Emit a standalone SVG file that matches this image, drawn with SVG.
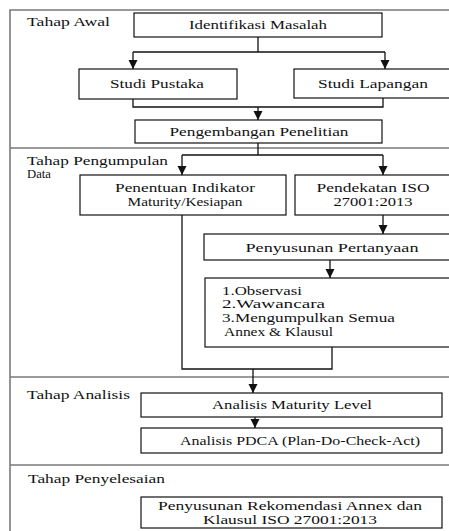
<svg xmlns="http://www.w3.org/2000/svg" width="449" height="531" viewBox="0 0 449 531" font-family="Liberation Serif, serif" font-size="12.5">
<defs>
<style>
.c{text-anchor:middle}
.box{fill:#fff;stroke:#111;stroke-width:1.2}
.con{fill:none;stroke:#111;stroke-width:1.3}
.div{stroke:#7a7a7a;stroke-width:1.6;fill:none}
</style>
<marker id="ah" markerUnits="userSpaceOnUse" markerWidth="10" markerHeight="10" refX="9" refY="4.5" orient="auto">
<path d="M0,0 L9,4.5 L0,9 z" fill="#111"/>
</marker>
</defs>
<rect width="449" height="531" fill="#fff"/>
<g id="frame">
<path class="div" d="M10,531 V10 H449"/>
<path class="div" d="M10,148 H449 M10,377 H449 M10,465 H449"/>
</g>
<g id="labels" fill="#111">
<text x="27" y="26" textLength="83" lengthAdjust="spacingAndGlyphs">Tahap Awal</text>
<text x="27" y="165" textLength="141" lengthAdjust="spacingAndGlyphs">Tahap Pengumpulan</text>
<text x="27" y="178" textLength="24" lengthAdjust="spacingAndGlyphs">Data</text>
<text x="27" y="399" textLength="103" lengthAdjust="spacingAndGlyphs">Tahap Analisis</text>
<text x="28" y="483" textLength="137" lengthAdjust="spacingAndGlyphs">Tahap Penyelesaian</text>
</g>
<g id="connectors">
<path class="con" d="M258,37 V52 M133,52 H385"/>
<path class="con" d="M133,52 V69" marker-end="url(#ah)"/>
<path class="con" d="M385,52 V69" marker-end="url(#ah)"/>
<path class="con" d="M133,99 V107 H383 V98"/>
<path class="con" d="M258,107 V120" marker-end="url(#ah)"/>
<path class="con" d="M258,143 V155 M182,155 H383"/>
<path class="con" d="M182,155 V175" marker-end="url(#ah)"/>
<path class="con" d="M383,155 V175" marker-end="url(#ah)"/>
<path class="con" d="M383,215 V234" marker-end="url(#ah)"/>
<path class="con" d="M330,260 V278" marker-end="url(#ah)"/>
<path class="con" d="M182,215 V369 H332 V347"/>
<path class="con" d="M253,369 V393" marker-end="url(#ah)"/>
<path class="con" d="M255,417 V428" marker-end="url(#ah)"/>
</g>
<g id="identifikasi" fill="#111">
<rect class="box" x="134" y="13" width="248" height="24"/>
<text class="c" x="258" y="29" textLength="138" lengthAdjust="spacingAndGlyphs">Identifikasi Masalah</text>
</g>
<g id="studi-pustaka" fill="#111">
<rect class="box" x="79" y="69" width="158" height="30"/>
<text class="c" x="157" y="88" textLength="94" lengthAdjust="spacingAndGlyphs">Studi Pustaka</text>
</g>
<g id="studi-lapangan" fill="#111">
<rect class="box" x="294" y="69" width="170" height="29"/>
<text class="c" x="373" y="88" textLength="110" lengthAdjust="spacingAndGlyphs">Studi Lapangan</text>
</g>
<g id="pengembangan" fill="#111">
<rect class="box" x="135" y="120" width="247" height="23"/>
<text class="c" x="259" y="136" textLength="179" lengthAdjust="spacingAndGlyphs">Pengembangan Penelitian</text>
</g>
<g id="penentuan" fill="#111">
<rect class="box" x="80" y="175" width="206" height="40"/>
<text class="c" x="185" y="192" textLength="140" lengthAdjust="spacingAndGlyphs">Penentuan Indikator</text>
<text class="c" x="185" y="206" textLength="115" lengthAdjust="spacingAndGlyphs">Maturity/Kesiapan</text>
</g>
<g id="pendekatan" fill="#111">
<rect class="box" x="295" y="175" width="170" height="40"/>
<text class="c" x="373" y="192" textLength="113" lengthAdjust="spacingAndGlyphs">Pendekatan ISO</text>
<text class="c" x="373" y="206" textLength="79" lengthAdjust="spacingAndGlyphs">27001:2013</text>
</g>
<g id="penyusunan-pertanyaan" fill="#111">
<rect class="box" x="204" y="234" width="260" height="26"/>
<text class="c" x="332" y="252" textLength="173" lengthAdjust="spacingAndGlyphs">Penyusunan Pertanyaan</text>
</g>
<g id="pengumpulan" fill="#111">
<rect class="box" x="205" y="278" width="260" height="69"/>
<text x="222" y="295" textLength="80" lengthAdjust="spacingAndGlyphs">1.Observasi</text>
<text x="222" y="308" textLength="103" lengthAdjust="spacingAndGlyphs">2.Wawancara</text>
<text x="222" y="322" textLength="173" lengthAdjust="spacingAndGlyphs">3.Mengumpulkan Semua</text>
<text x="224" y="336" textLength="109" lengthAdjust="spacingAndGlyphs">Annex &amp; Klausul</text>
</g>
<g id="analisis-maturity" fill="#111">
<rect class="box" x="141" y="393" width="301" height="24"/>
<text class="c" x="292" y="409" textLength="160" lengthAdjust="spacingAndGlyphs">Analisis Maturity Level</text>
</g>
<g id="analisis-pdca" fill="#111">
<rect class="box" x="141" y="428" width="301" height="25"/>
<text class="c" x="300" y="445" textLength="240" lengthAdjust="spacingAndGlyphs">Analisis PDCA (Plan-Do-Check-Act)</text>
</g>
<g id="rekomendasi" fill="#111">
<rect class="box" x="141" y="497" width="301" height="31"/>
<text class="c" x="290" y="510" textLength="264" lengthAdjust="spacingAndGlyphs">Penyusunan Rekomendasi Annex dan</text>
<text class="c" x="290" y="524" textLength="174" lengthAdjust="spacingAndGlyphs">Klausul ISO 27001:2013</text>
</g>
</svg>
